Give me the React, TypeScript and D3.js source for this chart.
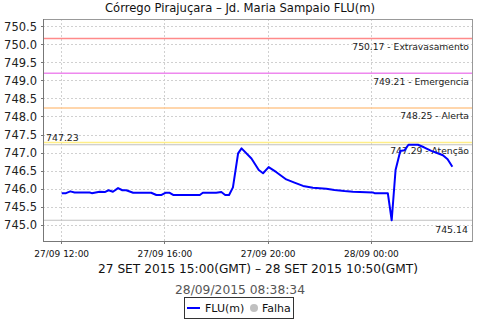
import React from "react";
import * as d3 from "d3";

const times: string[] = [
  "2015-09-27T12:00", "2015-09-27T12:10", "2015-09-27T12:20", "2015-09-27T12:30",
  "2015-09-27T13:05", "2015-09-27T13:10", "2015-09-27T13:28", "2015-09-27T13:40",
  "2015-09-27T13:49", "2015-09-27T13:59", "2015-09-27T14:11", "2015-09-27T14:21",
  "2015-09-27T14:30", "2015-09-27T14:46", "2015-09-27T15:28", "2015-09-27T15:40",
  "2015-09-27T15:52", "2015-09-27T16:01", "2015-09-27T16:11", "2015-09-27T16:19",
  "2015-09-27T17:21", "2015-09-27T17:28", "2015-09-27T17:59", "2015-09-27T18:11",
  "2015-09-27T18:20", "2015-09-27T18:29", "2015-09-27T18:38", "2015-09-27T18:50",
  "2015-09-27T18:58", "2015-09-27T19:21", "2015-09-27T19:38", "2015-09-27T19:48",
  "2015-09-27T20:01", "2015-09-27T20:19", "2015-09-27T20:42", "2015-09-27T21:01",
  "2015-09-27T21:21", "2015-09-27T21:44", "2015-09-27T22:15", "2015-09-27T22:34",
  "2015-09-27T22:57", "2015-09-27T23:17", "2015-09-28T00:03", "2015-09-28T00:07",
  "2015-09-28T00:38", "2015-09-28T00:47", "2015-09-28T00:56", "2015-09-28T01:07",
  "2015-09-28T01:17", "2015-09-28T01:26", "2015-09-28T01:48", "2015-09-28T02:02",
  "2015-09-28T02:19", "2015-09-28T02:46", "2015-09-28T02:57", "2015-09-28T03:08",
];
const levels: number[] = [
  745.89, 745.89, 745.94, 745.91,
  745.91, 745.89, 745.93, 745.92,
  745.97, 745.93, 746.03, 745.97,
  745.97, 745.90, 745.90, 745.84,
  745.84, 745.90, 745.90, 745.84,
  745.84, 745.90, 745.90, 745.92,
  745.84, 745.84, 746.05, 746.99,
  747.13, 746.85, 746.53, 746.44,
  746.61, 746.47, 746.27, 746.18,
  746.09, 746.04, 746.01, 745.98,
  745.95, 745.93, 745.91, 745.89,
  745.89, 745.14, 746.53, 747.06,
  747.08, 747.23, 747.23, 747.16,
  747.06, 746.94, 746.83, 746.62,
];

const thresholdValues: number[] = [750.17, 749.21, 748.25, 747.29];
const thresholdNames: string[] = ["Extravasamento", "Emergencia", "Alerta", "Atenção"];
const thresholdColors: string[] = ["#ff8a8a", "#ee88ee", "#ffc890", "#ffee88"];

const yTicks: number[] = [745.0, 745.5, 746.0, 746.5, 747.0, 747.5, 748.0, 748.5, 749.0, 749.5, 750.0, 750.5];
const xTicks: string[] = ["2015-09-27T12:00", "2015-09-27T16:00", "2015-09-27T20:00", "2015-09-28T00:00"];
const xDomain: string[] = ["2015-09-27T11:16:30", "2015-09-28T03:53:40"];
const yDomain: number[] = [744.565, 750.713];

const title = "Córrego Pirajuçara – Jd. Maria Sampaio FLU(m)";
const subtitle = "27 SET 2015 15:00(GMT) – 28 SET 2015 10:50(GMT)";
const stamp = "28/09/2015 08:38:34";
const seriesName = "FLU(m)";
const failName = "Falha";

const parse = (s: string) => new Date(s + "Z");

export default function App() {
  const W = 480, H = 320;
  const left = 43, right = 472, top = 19, bottom = 241;
  const x = d3.scaleUtc().domain(xDomain.map(parse)).range([left, right]);
  const y = d3.scaleLinear().domain(yDomain).range([bottom, top]);
  const fmtX = d3.utcFormat("%d/%m %H:%M");
  const fmtY = d3.format(".1f");
  const data = times.map((t, i) => ({ t: parse(t), v: levels[i] }));
  const line = d3.line<{ t: Date; v: number }>().x(d => x(d.t)).y(d => y(d.v));
  const maxV = d3.max(levels) as number;
  const minV = d3.min(levels) as number;
  const font = "DejaVu Sans, sans-serif";

  return (
    <svg width={W} height={H} style={{ position: "absolute", left: 0, top: 0, background: "#fff" }} fontFamily={font}>
      <rect x={0} y={0} width={W} height={H} fill="#fff" />
      <text x={240} y={12} textAnchor="middle" fontSize={11.6} fill="#111">{title}</text>
      {/* gridlines */}
      {yTicks.map(v => (
        <line key={"gy" + v} x1={left} x2={right} y1={y(v)} y2={y(v)} stroke="#d0d0d0" strokeDasharray="2,2" strokeWidth={1} shapeRendering="crispEdges" />
      ))}
      {xTicks.map(t => (
        <line key={"gx" + t} x1={x(parse(t))} x2={x(parse(t))} y1={top} y2={bottom} stroke="#d0d0d0" strokeDasharray="2,2" strokeWidth={1} shapeRendering="crispEdges" />
      ))}
      {/* thresholds */}
      {thresholdValues.map((v, i) => (
        <g key={"th" + v}>
          <line x1={left} x2={right} y1={y(v)} y2={y(v)} stroke={thresholdColors[i]} strokeWidth={1.5} />
          <text x={right - 3} y={y(v) + 11.5} textAnchor="end" fontSize={9.2} fill="#222">{`${v.toFixed(2)} - ${thresholdNames[i]}`}</text>
        </g>
      ))}
      {/* max/min markers */}
      <line x1={left} x2={right} y1={y(maxV)} y2={y(maxV)} stroke="#c0c0c0" strokeWidth={1.2} />
      <text x={left + 3} y={y(maxV) - 4} fontSize={9.4} fill="#222">{maxV.toFixed(2)}</text>
      <line x1={left} x2={right} y1={y(minV)} y2={y(minV)} stroke="#c0c0c0" strokeWidth={1.2} />
      <text x={right - 4} y={y(minV) + 12.5} textAnchor="end" fontSize={9.4} fill="#222">{minV.toFixed(2)}</text>
      {/* series */}
      <path d={line(data) || ""} fill="none" stroke="#0000ff" strokeWidth={2} strokeLinejoin="round" />
      {/* plot border */}
      <rect x={left} y={top} width={right - left} height={bottom - top} fill="none" stroke="#999" strokeWidth={1} shapeRendering="crispEdges" />
      <line x1={left} x2={left} y1={top} y2={bottom} stroke="#777" shapeRendering="crispEdges" />
      <line x1={left} x2={right} y1={bottom} y2={bottom} stroke="#777" shapeRendering="crispEdges" />
      {/* y axis */}
      {yTicks.map(v => (
        <g key={"ty" + v}>
          <line x1={left - 2} x2={left} y1={y(v)} y2={y(v)} stroke="#777" shapeRendering="crispEdges" />
          <text x={left - 6} y={y(v) + 4} textAnchor="end" fontSize={11.5} fill="#222">{fmtY(v)}</text>
        </g>
      ))}
      {/* x axis */}
      {xTicks.map(t => (
        <g key={"tx" + t}>
          <line x1={x(parse(t))} x2={x(parse(t))} y1={bottom} y2={bottom + 3} stroke="#777" shapeRendering="crispEdges" />
          <text x={x(parse(t))} y={bottom + 16} textAnchor="middle" fontSize={9} fill="#111">{fmtX(parse(t))}</text>
        </g>
      ))}
      <text x={98} y={273} textAnchor="start" fontSize={12.2} fill="#111">{subtitle}</text>
      <text x={240} y={294} textAnchor="middle" fontSize={12.3} fill="#555">{stamp}</text>
      {/* legend */}
      <rect x={184.5} y={297.5} width={109} height={21} fill="#fff" stroke="#333" strokeWidth={1} />
      <line x1={187} x2={200} y1={308} y2={308} stroke="#0000ff" strokeWidth={2} />
      <text x={205} y={312} fontSize={11} fill="#111">{seriesName}</text>
      <circle cx={254} cy={308} r={4} fill="#c0c0c0" />
      <text x={262} y={312} fontSize={11} fill="#111">{failName}</text>
    </svg>
  );
}
